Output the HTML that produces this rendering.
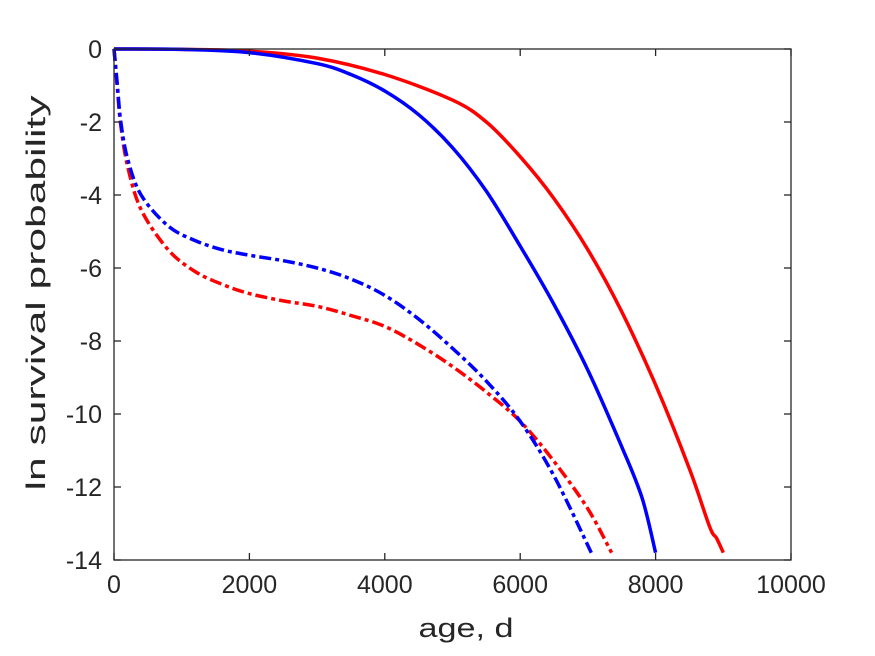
<!DOCTYPE html>
<html><head><meta charset="utf-8"><style>
body{margin:0;background:#fff;}
svg{display:block;font-family:"Liberation Sans",sans-serif;}
</style></head><body>
<svg id="chart" width="875" height="656">
<rect x="0" y="0" width="875" height="656" fill="#fff"/>
<g id="plot"></g>
<g id="axes"></g>
<text x="466" y="637" text-anchor="middle" font-size="27" textLength="95" lengthAdjust="spacingAndGlyphs" fill="#262626">age, d</text>
<text transform="translate(45,293) rotate(-90)" text-anchor="middle" font-size="27" textLength="395" lengthAdjust="spacingAndGlyphs" fill="#262626">ln survival probability</text>
</svg>
<script>
const xTicks=[0,2000,4000,6000,8000,10000];
const yTicks=[0,-2,-4,-6,-8,-10,-12,-14];
const redSolidX=[0,1000,2000,3000,4000,5000,5500,6000,6500,7000,7500,8000,8500,8800,8900,9000];
const redSolidY=[0,-0.01,-0.06,-0.25,-0.7,-1.4,-2.0,-2.95,-4.1,-5.5,-7.2,-9.2,-11.5,-13.1,-13.4,-13.8];
const blueSolidX=[0,1000,2000,3000,3500,4000,4500,5000,5500,6000,6500,7000,7500,7800,8000];
const blueSolidY=[0,-0.01,-0.1,-0.4,-0.7,-1.15,-1.8,-2.7,-3.9,-5.4,-7.0,-8.8,-10.9,-12.3,-13.8];
const blueDashX=[0,50,100,200,400,800,1200,1600,2000,2500,3000,3500,4000,4500,5000,5500,6000,6500,7050];
const blueDashY=[0,-1.0,-2.0,-3.0,-4.0,-4.85,-5.25,-5.5,-5.65,-5.8,-6.0,-6.3,-6.75,-7.4,-8.2,-9.1,-10.2,-11.7,-13.8];
const redDashX=[0,50,100,200,400,800,1200,1600,2000,2500,3000,3500,4000,4500,5000,5500,6000,6500,7000,7350];
const redDashY=[0,-1.1,-2.1,-3.2,-4.4,-5.5,-6.1,-6.45,-6.7,-6.9,-7.05,-7.3,-7.6,-8.1,-8.7,-9.4,-10.2,-11.3,-12.6,-13.8];

const L=114,R=791,T=49,B=560;
const sx=v=>L+(v-0)/(10000-0)*(R-L);
const sy=v=>T+(0-v)/(0-(-14))*(B-T);
const NS="http://www.w3.org/2000/svg";
const plot=document.getElementById('plot'),axes=document.getElementById('axes');
function mk(tag,attrs,parent){const e=document.createElementNS(NS,tag);for(const k in attrs)e.setAttribute(k,attrs[k]);parent.appendChild(e);return e;}

function smoothPath(xs,ys){
  const p=xs.map((x,i)=>[sx(x),sy(ys[i])]);
  let d='M'+p[0][0].toFixed(1)+','+p[0][1].toFixed(1);
  for(let i=0;i<p.length-1;i++){
    const p0=p[i-1]||p[i],p1=p[i],p2=p[i+1],p3=p[i+2]||p[i+1];
    const c1=[p1[0]+(p2[0]-p0[0])/6,p1[1]+(p2[1]-p0[1])/6];
    const c2=[p2[0]-(p3[0]-p1[0])/6,p2[1]-(p3[1]-p1[1])/6];
    d+=' C'+c1.map(v=>v.toFixed(1)).join(',')+' '+c2.map(v=>v.toFixed(1)).join(',')+' '+p2.map(v=>v.toFixed(1)).join(',');
  }
  return d;
}
function line(xs,ys,color,dash,name){
  const p=mk('path',{d:smoothPath(xs,ys),fill:'none',stroke:color,'stroke-width':3.5,'stroke-linejoin':'round'},plot);
  if(dash)p.setAttribute('stroke-dasharray',dash);
  
  
}
line(redDashX,redDashY,'#ff0000','12,4,4,4','red-dashdot-series');
line(blueDashX,blueDashY,'#0000ff','12,4,4,4','blue-dashdot-series');
line(redSolidX,redSolidY,'#ff0000',null,'red-solid-series');
line(blueSolidX,blueSolidY,'#0000ff',null,'blue-solid-series');

const box=mk('rect',{x:L,y:T,width:R-L,height:B-T,fill:'none',stroke:'#262626','stroke-width':1.3},axes);


xTicks.forEach(v=>{
  const x=sx(v);
  mk('line',{x1:x,y1:B,x2:x,y2:B-7,stroke:'#262626','stroke-width':1.3},axes);
  mk('line',{x1:x,y1:T,x2:x,y2:T+7,stroke:'#262626','stroke-width':1.3},axes);
  const t=mk('text',{x:x,y:B+33,'text-anchor':'middle','font-size':25,fill:'#262626'},axes);
  t.textContent=v;
  
  
});
yTicks.forEach(v=>{
  const y=sy(v);
  mk('line',{x1:L,y1:y,x2:L+7,y2:y,stroke:'#262626','stroke-width':1.3},axes);
  mk('line',{x1:R,y1:y,x2:R-7,y2:y,stroke:'#262626','stroke-width':1.3},axes);
  const t=mk('text',{x:L-12,y:y+9,'text-anchor':'end','font-size':25,fill:'#262626'},axes);
  t.textContent=v;
  
  
});
</script>
</body></html>
